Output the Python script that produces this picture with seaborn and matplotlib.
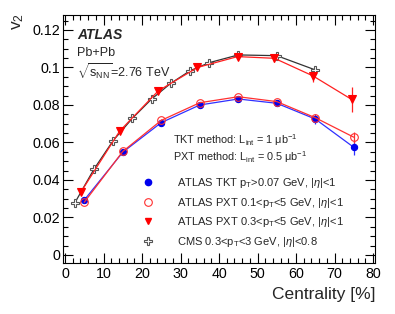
import numpy as np
import pandas as pd
import matplotlib
matplotlib.use("Agg")
import matplotlib.pyplot as plt
import seaborn as sns
from matplotlib.ticker import MultipleLocator
from matplotlib.lines import Line2D

sns.set_theme(style="white")
plt.rcParams['font.family'] = ['Liberation Sans', 'DejaVu Sans']
plt.rcParams['mathtext.fontset'] = 'custom'
plt.rcParams['mathtext.rm'] = 'Liberation Sans'
plt.rcParams['mathtext.it'] = 'Liberation Sans:italic'

# ---- data ----
cent_tkt = [5, 15, 25, 35, 45, 55, 65, 75]
v2_tkt = [0.0293, 0.0548, 0.0706, 0.0800, 0.0832, 0.0809, 0.0725, 0.0574]
err_tkt = [0.0005, 0.0005, 0.0005, 0.0005, 0.0005, 0.0007, 0.0025, 0.0040]

cent_pxt01 = [5, 15, 25, 35, 45, 55, 65, 75]
v2_pxt01 = [0.0281, 0.0552, 0.0718, 0.0812, 0.0844, 0.0818, 0.0732, 0.0628]
err_pxt01 = [0.0005, 0.0005, 0.0005, 0.0005, 0.0005, 0.0007, 0.0015, 0.0030]

cent_pxt03 = [4.2, 14.2, 24.2, 34.4, 44.8, 54.4, 64.4, 74.4]
v2_pxt03 = [0.0338, 0.0661, 0.0875, 0.1000, 0.1058, 0.1049, 0.0955, 0.0830]
err_pxt03 = [0.0005, 0.0005, 0.0005, 0.0005, 0.0010, 0.0020, 0.0030, 0.0066]

cent_cms = [2.5, 7.5, 12.5, 17.5, 22.5, 27.5, 32.5, 37.5, 45, 55, 65]
v2_cms = [0.0276, 0.0457, 0.0610, 0.0729, 0.0832, 0.0916, 0.0983, 0.1026, 0.1067, 0.1063, 0.0987]
err_cms = [0.0004, 0.0004, 0.0004, 0.0004, 0.0004, 0.0004, 0.0004, 0.0004, 0.0005, 0.0006, 0.0008]

labels = [r"ATLAS TKT p$_\mathrm{T}$>0.07 GeV, |$\eta$|<1",
          r"ATLAS PXT 0.1<p$_\mathrm{T}$<5 GeV, |$\eta$|<1",
          r"ATLAS PXT 0.3<p$_\mathrm{T}$<5 GeV, |$\eta$|<1",
          r"CMS 0.3<p$_\mathrm{T}$<3 GeV, |$\eta$|<0.8"]

W, H = 395, 314
fig = plt.figure(figsize=(W / 100, H / 100), dpi=100)
ax = fig.add_axes([62.7 / W, 1 - 263 / H, (375 - 62.7) / W, (263 - 15) / H])

series = [
    (cent_cms, v2_cms, err_cms, "#333333", "P", "white", 5.5, "#555555"),
    (cent_pxt03, v2_pxt03, err_pxt03, "#ff2020", "v", "#ff0000", 5.5, "#ff0000"),
    (cent_tkt, v2_tkt, err_tkt, "#3030ff", "o", "#0000ee", 4.5, "#0000ee"),
    (cent_pxt01, v2_pxt01, err_pxt01, "#ff3030", "o", "none", 5.5, "#ff3030"),
]
for x, y, e, lc, mk, mfc, ms, mec in series:
    df = pd.DataFrame({"x": x, "y": y})
    ax.errorbar(x, y, yerr=e, fmt="none", ecolor=lc, elinewidth=0.9, capsize=0, zorder=2)
    sns.lineplot(data=df, x="x", y="y", ax=ax, color=lc, lw=0.9, marker=mk,
                 markersize=ms, markerfacecolor=mfc, markeredgecolor=mec,
                 markeredgewidth=0.8, zorder=3)

ax.set_xlim(-0.6, 80.5)
ax.set_ylim(-0.0043, 0.128)
ax.xaxis.set_major_locator(MultipleLocator(10))
ax.xaxis.set_minor_locator(MultipleLocator(2))
ax.yaxis.set_major_locator(MultipleLocator(0.02))
ax.yaxis.set_minor_locator(MultipleLocator(0.005))
ax.set_xticks(np.arange(0, 81, 10))
ax.set_xticklabels([str(v) for v in range(0, 81, 10)])
ax.set_yticks([0, 0.02, 0.04, 0.06, 0.08, 0.1, 0.12])
ax.set_yticklabels(["0", "0.02", "0.04", "0.06", "0.08", "0.1", "0.12"])
ax.tick_params(which="both", direction="in", top=True, right=True, bottom=True, left=True,
               colors="black", labelsize=10.3, width=0.8)
ax.tick_params(which="major", length=7)
ax.tick_params(axis="y", which="major", pad=2)
ax.tick_params(axis="x", which="major", pad=3)
ax.tick_params(which="minor", length=3.5)
for s in ax.spines.values():
    s.set_color("black")
    s.set_linewidth(0.8)
ax.set_xlabel("")
ax.set_ylabel("")
ax.grid(False)

fig.text(375 / W, 1 - 295 / H, "Centrality [%]", ha="right", va="center", fontsize=12.5)
fig.text(18 / W, 1 - 13 / H, r"v$_2$", ha="center", va="top", rotation=90, fontsize=12.5)

fig.text(77 / W, 1 - 35 / H, "ATLAS", ha="left", va="center", fontsize=10,
         fontweight="bold", fontstyle="italic")
fig.text(77 / W, 1 - 53 / H, "Pb+Pb", ha="left", va="center", fontsize=9)
fig.text(77 / W, 1 - 72 / H, r"$\sqrt{\mathrm{s}_\mathrm{NN}}$=2.76 TeV", ha="left", va="center", fontsize=9)

fig.text(173 / W, 1 - 140 / H, r"TKT method: L$_\mathrm{int}$ = 1 $\mathrm{\mu}$b$^{-1}$",
         ha="left", va="center", fontsize=7.8)
fig.text(173 / W, 1 - 157 / H, r"PXT method: L$_\mathrm{int}$ = 0.5 $\mathrm{\mu}$b$^{-1}$",
         ha="left", va="center", fontsize=7.8)

handles = [
    Line2D([], [], ls="none", marker="o", ms=4.5, mfc="#0000ee", mec="#0000ee"),
    Line2D([], [], ls="none", marker="o", ms=5.5, mfc="none", mec="#ff3030", mew=0.8),
    Line2D([], [], ls="none", marker="v", ms=5.0, mfc="#ff0000", mec="#ff0000"),
    Line2D([], [], ls="none", marker="P", ms=5.5, mfc="white", mec="#555555", mew=0.8),
]
leg = ax.legend(handles, labels, loc="upper left",
                bbox_to_anchor=((142.5 - 62.7) / (375 - 62.7), (263 - 176) / (263 - 15)),
                frameon=False, fontsize=8, handlelength=1.0, handletextpad=2.1,
                labelspacing=0.5, borderaxespad=0, borderpad=0)

fig.savefig("out.png", dpi=100)
